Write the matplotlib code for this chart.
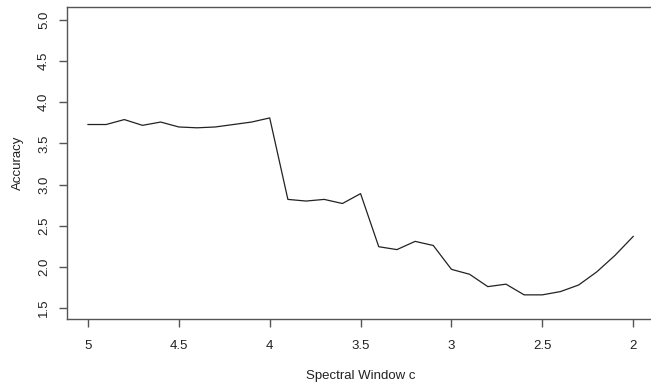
import numpy as np
import matplotlib.pyplot as plt

plt.rcParams['font.family'] = ['Liberation Sans', 'DejaVu Sans']

# значения
window_c = [5.0, 4.9, 4.8, 4.7, 4.6, 4.5, 4.4, 4.3, 4.2, 4.1, 4.0,
            3.9, 3.8, 3.7, 3.6, 3.5, 3.4, 3.3, 3.2, 3.1, 3.0,
            2.9, 2.8, 2.7, 2.6, 2.5, 2.4, 2.3, 2.2, 2.1, 2.0]
accuracy = [3.73, 3.73, 3.79, 3.72, 3.76, 3.70, 3.69, 3.70, 3.73, 3.76, 3.81,
            2.82, 2.80, 2.82, 2.77, 2.89, 2.245, 2.21, 2.31, 2.26, 1.97,
            1.91, 1.76, 1.79, 1.66, 1.66, 1.70, 1.78, 1.94, 2.14, 2.37]

x_ticks = [5, 4.5, 4, 3.5, 3, 2.5, 2]
x_labels = ['5', '4.5', '4', '3.5', '3', '2.5', '2']
y_ticks = [1.5, 2.0, 2.5, 3.0, 3.5, 4.0, 4.5, 5.0]

fig = plt.figure(figsize=(6.51, 3.87), dpi=100)
ax = fig.add_axes([66.7 / 651, 1 - 319.3 / 387, (655 - 66.7) / 651, (319.3 - 7) / 387])

ax.plot(window_c, accuracy, color='#222222', lw=0.9)

ax.set_xlim(5.117, 1.88)
ax.set_ylim(1.363, 5.158)

ax.set_xticks(x_ticks)
ax.set_xticklabels(x_labels)
ax.set_yticks(y_ticks)
ax.set_yticklabels([f'{v:.1f}' for v in y_ticks], rotation=90, va='center')

for s in ax.spines.values():
    s.set_color('#555555')
    s.set_linewidth(1.0)
ax.tick_params(axis='both', length=6, width=1, color='#555555', labelsize=9.5, labelcolor='#222222')
ax.tick_params(axis='x', pad=9)
ax.tick_params(axis='y', pad=6)

ax.set_xlabel('Spectral Window c', fontsize=9.5, color='#222222', labelpad=13)
ax.set_ylabel('Accuracy', fontsize=9.5, color='#222222', labelpad=10)

fig.savefig('out.png', dpi=100)
